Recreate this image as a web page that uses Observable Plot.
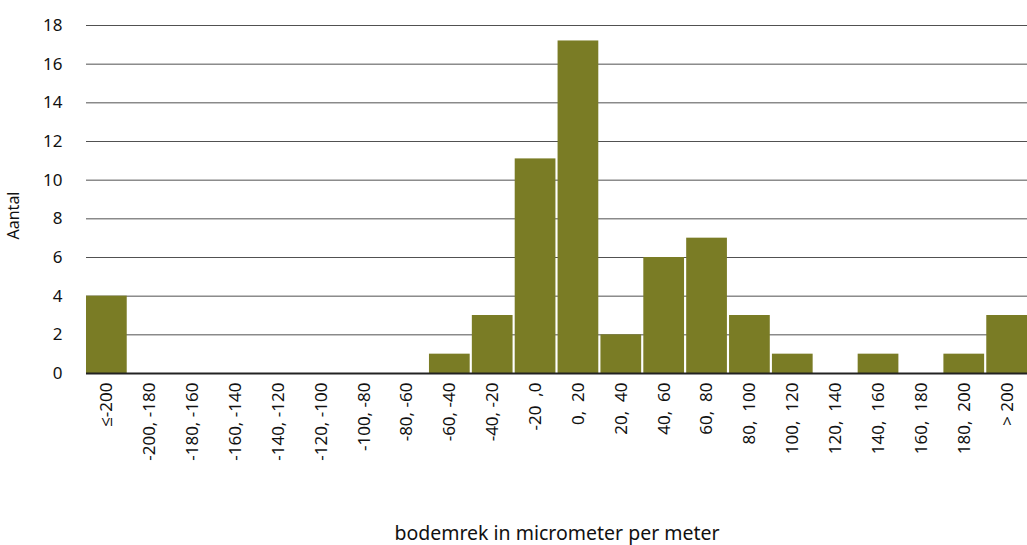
<!DOCTYPE html>
<html>
<head>
<meta charset="utf-8">
<script src="https://cdn.jsdelivr.net/npm/d3@7"></script>
<script src="https://cdn.jsdelivr.net/npm/@observablehq/plot@0.6"></script>
<style>
  html, body { margin: 0; padding: 0; background: #fff; }
  #chart svg { display: block; }
</style>
</head>
<body>
<div id="chart"></div>
<script>
const S = "\u00a0";
const categories = [
  "≤-200", "-200, -180", "-180, -160", "-160, -140", "-140, -120", "-120, -100",
  "-100, -80", "-80, -60", "-60, -40", "-40, -20", "-20" + S + S + ",0", "0," + S + S + "20",
  "20," + S + S + "40", "40," + S + S + "60", "60," + S + S + "80", "80," + S + S + "100",
  "100," + S + S + "120", "120," + S + S + "140", "140," + S + S + "160", "160," + S + S + "180",
  "180," + S + S + "200", ">" + S + "200"
];
const counts = [4, 0, 0, 0, 0, 0, 0, 0, 1, 3, 11.1, 17.2, 2, 6, 7, 3, 1, 0, 1, 0, 1, 3];
const yTicks = [0, 2, 4, 6, 8, 10, 12, 14, 16, 18];

const data = categories.map((c, i) => ({category: c, count: counts[i]}));

const chart = Plot.plot({
  width: 1027,
  height: 545,
  marginLeft: 86,
  marginRight: 0,
  marginTop: 25,
  marginBottom: 172,
  style: {fontFamily: "'Noto Sans', 'Open Sans', sans-serif", fontSize: "17px", color: "#111", background: "#fff"},
  x: {domain: categories, paddingInner: 0.05, paddingOuter: 0, round: false, label: null},
  y: {domain: [0, 18], ticks: yTicks, label: null},
  marks: [
    Plot.gridY(yTicks, {stroke: "#333", strokeOpacity: 0.85, strokeWidth: 1}),
    Plot.barY(data, {x: "category", y: "count", fill: "#7a7c25"}),
    Plot.ruleY([0], {stroke: "#222", strokeWidth: 2}),
    Plot.axisY(yTicks, {tickSize: 0, tickPadding: 24, label: null}),
    Plot.axisX({tickSize: 0, tickRotate: -90, tickPadding: 9, label: null}),
    Plot.text(["Aantal"], {frameAnchor: "left", textAnchor: "middle", dx: -73, dy: 16, rotate: -90, fontSize: "16px"}),
    Plot.text(["bodemrek in micrometer per meter"], {frameAnchor: "bottom", dy: 166, fontSize: "19.5px"})
  ]
});
document.getElementById("chart").appendChild(chart);
</script>
</body>
</html>
